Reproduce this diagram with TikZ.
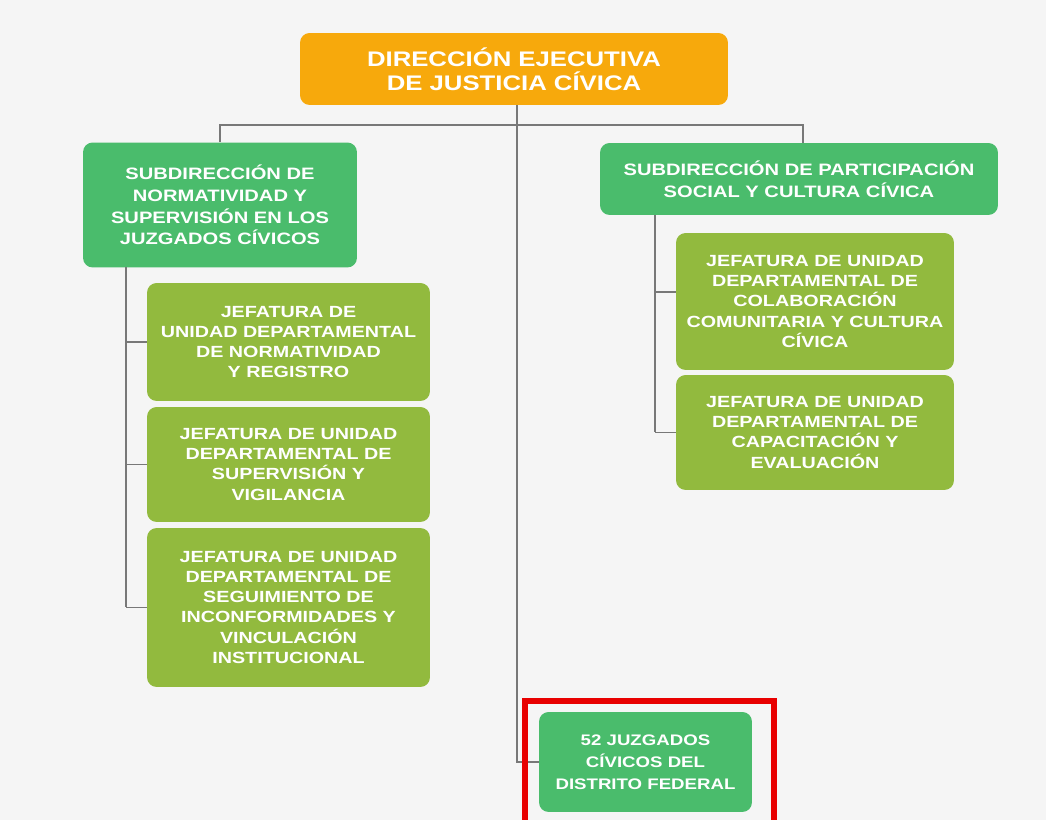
\documentclass[tikz,border=0pt]{standalone}
\usepackage{fontspec}
\setmainfont{Liberation Sans}[FakeStretch=1.22]
\definecolor{fondo}{RGB}{245,245,245}
\definecolor{naranja}{RGB}{247,169,12}
\definecolor{verde}{RGB}{74,188,108}
\definecolor{olivo}{RGB}{146,186,62}
\definecolor{gris}{RGB}{120,120,120}
\definecolor{rojo}{RGB}{232,0,0}
\begin{document}
\begin{tikzpicture}[x=0.02cm,y=-0.02cm,
  caja/.style={rounded corners=5.5pt, text=white, align=center, inner sep=0pt},
  linea/.style={draw=gris, line width=1.1pt},
  marco/.style={draw=rojo, line width=3.4pt}]
\useasboundingbox (0,0) rectangle (1046,820);
\clip (0,0) rectangle (1046,820);
\fill [fondo] (0,0) rectangle (1046,820);
\node [caja, fill=naranja, minimum width=8.56cm, minimum height=1.44cm,
  font=\fontsize{12}{13.6}\selectfont\bfseries] (dir) at (514,69) {DIRECCIÓN EJECUTIVA\\DE JUSTICIA CÍVICA};
\node [caja, fill=verde, minimum width=5.48cm, minimum height=2.5cm,
  font=\fontsize{9.4}{12.3}\selectfont\bfseries] (sub1) at (220,205) {SUBDIRECCIÓN DE\\NORMATIVIDAD Y\\SUPERVISIÓN EN LOS\\JUZGADOS CÍVICOS};
\node [caja, fill=verde, minimum width=7.96cm, minimum height=1.44cm,
  font=\fontsize{9.4}{12.3}\selectfont\bfseries] (sub2) at (799,179) {SUBDIRECCIÓN DE PARTICIPACIÓN\\SOCIAL Y CULTURA CÍVICA};
\node [caja, fill=olivo, minimum width=5.66cm, minimum height=2.36cm,
  font=\fontsize{9.2}{11.4}\selectfont\bfseries] (j1) at (288.5,342) {JEFATURA DE\\UNIDAD DEPARTAMENTAL\\DE NORMATIVIDAD\\Y REGISTRO};
\node [caja, fill=olivo, minimum width=5.66cm, minimum height=2.3cm,
  font=\fontsize{9.2}{11.4}\selectfont\bfseries] (j2) at (288.5,464.5) {JEFATURA DE UNIDAD\\DEPARTAMENTAL DE\\SUPERVISIÓN Y\\VIGILANCIA};
\node [caja, fill=olivo, minimum width=5.66cm, minimum height=3.18cm,
  font=\fontsize{9.2}{11.4}\selectfont\bfseries] (j3) at (288.5,607.5) {JEFATURA DE UNIDAD\\DEPARTAMENTAL DE\\SEGUIMIENTO DE\\INCONFORMIDADES Y\\VINCULACIÓN\\INSTITUCIONAL};
\node [caja, fill=olivo, minimum width=5.56cm, minimum height=2.74cm,
  font=\fontsize{9.2}{11.4}\selectfont\bfseries] (r1) at (815,301.5) {JEFATURA DE UNIDAD\\DEPARTAMENTAL DE\\COLABORACIÓN\\COMUNITARIA Y CULTURA\\CÍVICA};
\node [caja, fill=olivo, minimum width=5.56cm, minimum height=2.3cm,
  font=\fontsize{9.2}{11.4}\selectfont\bfseries] (r2) at (815,432.5) {JEFATURA DE UNIDAD\\DEPARTAMENTAL DE\\CAPACITACIÓN Y\\EVALUACIÓN};
\node [caja, fill=verde, minimum width=4.26cm, minimum height=2cm,
  font=\fontsize{8.7}{12.4}\selectfont\bfseries] (juz) at (645.5,762) {52 JUZGADOS\\CÍVICOS DEL\\DISTRITO FEDERAL};
\coordinate (barra) at (517,125);
\coordinate (ltop) at (126,267);
\coordinate (rtop) at (655,215);
\draw [linea] (sub1.north) |- (barra) -| ([xshift=2.3pt]sub2.north);
\draw [linea] (dir.south -| barra) |- (juz.west);
\draw [linea] (ltop) -- (ltop |- j3.west);
\foreach \j in {j1,j2,j3}
  \draw [linea] (ltop |- \j.west) -- (\j.west);
\draw [linea] (rtop) -- (rtop |- r2.west);
\draw [linea] (rtop |- 0,292) -- (r1.west |- 0,292);
\draw [linea] (rtop |- r2.west) -- (r2.west);
\draw [marco] (525,701) rectangle (774,840);
\end{tikzpicture}
\end{document}
